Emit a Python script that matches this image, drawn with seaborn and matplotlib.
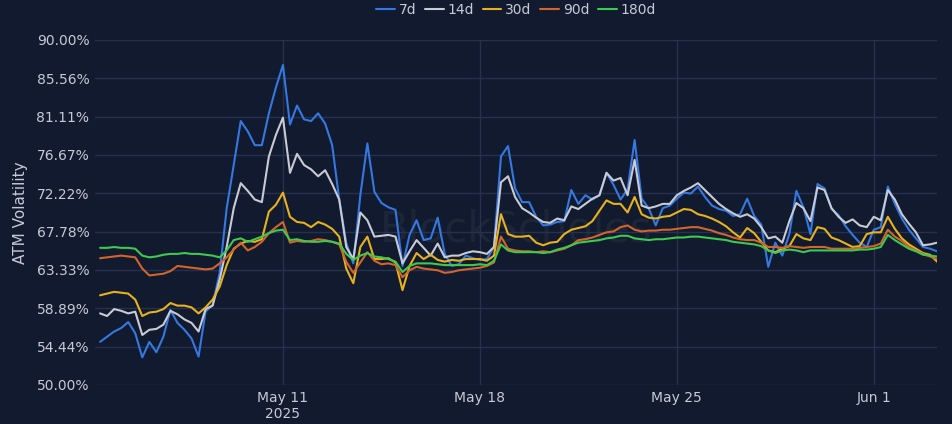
import pandas as pd
import numpy as np
import seaborn as sns
import matplotlib.pyplot as plt

# ATM volatility term structure, 6-hourly samples
start = '2025-05-04 12:00'
step = '6h'

vol_7d = [55.0, 55.6, 56.2, 56.6, 57.3, 56.0, 53.2, 55.0, 53.8, 55.6,
          58.7, 57.2, 56.4, 55.4, 53.3, 58.5, 59.3, 63.0, 70.5, 75.5,
          80.6, 79.4, 77.8, 77.8, 81.5, 84.5, 87.1, 80.2, 82.4, 80.8,
          80.6, 81.5, 80.3, 77.8, 71.5, 66.5, 64.1, 72.0, 78.0, 72.4,
          71.1, 70.6, 70.3, 63.8, 67.4, 69.1, 66.8, 67.0, 69.4, 65.2,
          63.8, 64.0, 65.0, 64.7, 64.5, 64.6, 66.0, 76.5, 77.7, 72.8,
          71.2, 71.2, 69.5, 68.5, 68.6, 68.9, 69.0, 72.6, 71.0, 72.0,
          71.5, 72.0, 74.6, 73.2, 71.5, 72.7, 78.4, 71.6, 70.5, 68.5,
          70.5, 70.8, 71.6, 72.3, 72.2, 73.0, 71.8, 70.8, 70.4, 70.2,
          69.6, 69.8, 71.6, 69.6, 68.6, 63.7, 66.5, 65.0, 67.5, 72.5,
          70.6, 67.5, 73.3, 72.8, 70.4, 69.7, 68.4, 67.4, 66.5, 66.0,
          68.0, 68.3, 73.0, 71.0, 69.3, 68.0, 67.0, 66.0, 65.8, 65.5]

vol_14d = [58.3, 58.0, 58.8, 58.6, 58.3, 58.5, 55.8, 56.4, 56.5, 57.0,
           58.6, 58.2, 57.6, 57.2, 56.2, 58.8, 59.2, 62.2, 66.0, 70.5,
           73.4, 72.5, 71.5, 71.2, 76.5, 79.0, 81.0, 74.6, 76.8, 75.5,
           75.0, 74.2, 74.9, 73.3, 71.5, 66.0, 64.6, 70.0, 69.1, 67.2,
           67.3, 67.4, 67.2, 64.1, 65.5, 66.8, 65.9, 65.0, 66.4, 64.8,
           65.0, 65.0, 65.3, 65.5, 65.4, 65.2, 66.0, 73.5, 74.2, 71.8,
           70.5, 70.0, 69.4, 68.9, 68.8, 69.3, 69.1, 70.7, 70.4, 71.0,
           71.6, 72.0, 74.6, 73.7, 74.0, 72.0, 76.1, 70.8, 70.5, 70.7,
           71.0, 71.0, 72.0, 72.5, 72.9, 73.4, 72.6, 71.8, 71.0, 70.4,
           69.9, 69.5, 69.8, 69.3, 68.3, 67.0, 67.2, 66.5, 69.0, 71.1,
           70.5, 69.0, 72.9, 72.6, 70.5, 69.5, 68.8, 69.2, 68.5, 68.3,
           69.5, 69.1, 72.6, 71.5, 69.8, 68.7, 67.7, 66.2, 66.3, 66.5]

vol_30d = [60.4, 60.6, 60.8, 60.7, 60.6, 59.9, 58.0, 58.4, 58.5, 58.8,
           59.5, 59.2, 59.2, 59.0, 58.3, 59.0, 59.9, 61.4, 63.9, 65.8,
           66.4, 66.7, 66.6, 66.9, 70.1, 70.9, 72.3, 69.5, 68.9, 68.8,
           68.3, 68.9, 68.6, 68.1, 67.2, 63.5, 61.8, 66.0, 67.2, 64.6,
           64.6, 64.7, 64.2, 61.0, 63.8, 65.3, 64.6, 65.1, 64.5, 64.3,
           64.5, 64.4, 64.6, 64.6, 64.6, 64.4, 65.0, 69.8, 67.5, 67.2,
           67.2, 67.3, 66.5, 66.2, 66.5, 66.6, 67.5, 68.0, 68.2, 68.4,
           69.0, 70.2, 71.4, 71.0, 71.0, 70.0, 71.8, 69.8, 69.4, 69.3,
           69.5, 69.6, 70.0, 70.4, 70.3, 69.8, 69.6, 69.3, 68.9, 68.4,
           67.7, 67.1, 68.2, 67.6, 66.6, 65.6, 65.4, 65.8, 66.1, 67.5,
           67.0, 66.8, 68.3, 68.1, 67.1, 66.8, 66.4, 66.0, 66.1, 67.5,
           67.7, 67.7, 69.5, 68.1, 67.0, 66.3, 65.8, 65.3, 65.1, 64.3]

vol_90d = [64.7, 64.8, 64.9, 65.0, 64.9, 64.8, 63.5, 62.7, 62.8, 62.9,
           63.2, 63.8, 63.7, 63.6, 63.5, 63.4, 63.5, 64.1, 64.8, 65.7,
           66.5, 65.6, 66.0, 66.6, 67.6, 68.3, 68.9, 66.5, 66.7, 66.6,
           66.7, 66.9, 66.8, 66.6, 66.3, 64.3, 63.0, 64.2, 65.4, 64.4,
           64.0, 64.1, 63.9, 62.5, 63.3, 63.7, 63.5, 63.4, 63.3, 63.0,
           63.1, 63.3, 63.4, 63.5, 63.6, 63.8, 64.2, 67.2, 65.8, 65.6,
           65.5, 65.5, 65.4, 65.5, 65.4, 65.6, 65.8, 66.2, 66.8, 66.9,
           67.1, 67.4, 67.7, 67.8, 68.3, 68.5, 68.0, 67.8, 67.9, 67.9,
           68.0, 68.0, 68.1, 68.2, 68.3, 68.3, 68.1, 67.9, 67.6, 67.4,
           67.1, 66.9, 66.8, 66.8, 66.5, 66.0, 66.0, 65.9, 66.1, 66.0,
           65.9, 66.0, 66.0, 66.0, 65.8, 65.8, 65.8, 65.8, 65.9, 66.0,
           66.1, 66.4, 68.0, 67.2, 66.7, 66.0, 65.6, 65.2, 64.9, 64.6]

vol_180d = [65.9, 65.9, 66.0, 65.9, 65.9, 65.8, 65.0, 64.8, 64.9, 65.1,
            65.2, 65.2, 65.3, 65.2, 65.2, 65.1, 65.0, 64.8, 65.6, 66.8,
            67.0, 66.6, 66.9, 67.2, 67.6, 67.9, 68.0, 66.8, 66.9, 66.7,
            66.6, 66.6, 66.7, 66.6, 66.4, 65.2, 64.5, 65.0, 65.3, 64.9,
            64.8, 64.6, 64.3, 63.1, 63.8, 64.1, 64.1, 64.1, 64.0, 63.9,
            63.9, 63.9, 63.9, 63.9, 64.0, 63.9, 64.4, 66.3, 65.6, 65.4,
            65.4, 65.4, 65.4, 65.3, 65.4, 65.7, 65.9, 66.2, 66.5, 66.6,
            66.7, 66.8, 67.0, 67.1, 67.3, 67.3, 67.0, 66.9, 66.8, 66.9,
            66.9, 67.0, 67.1, 67.1, 67.2, 67.2, 67.1, 67.0, 66.9, 66.8,
            66.6, 66.5, 66.4, 66.3, 66.1, 65.6, 65.3, 65.6, 65.7, 65.6,
            65.4, 65.6, 65.6, 65.6, 65.6, 65.6, 65.6, 65.6, 65.7, 65.7,
            65.8, 66.0, 67.4, 66.8, 66.3, 65.8, 65.5, 65.1, 65.0, 64.9]

tenors = ['7d', '14d', '30d', '90d', '180d']
colors = ['#3478e0', '#c9cbd3', '#e8b21c', '#d2652a', '#3ec94f']
tick_dates = ['2025-05-11', '2025-05-18', '2025-05-25', '2025-06-01']
tick_labels = ['May 11\n2025', 'May 18', 'May 25', 'Jun 1']

times = pd.date_range(start, periods=len(vol_7d), freq=step)
df = pd.DataFrame({'time': times, '7d': vol_7d, '14d': vol_14d, '30d': vol_30d,
                   '90d': vol_90d, '180d': vol_180d})
df = df.melt(id_vars='time', var_name='tenor', value_name='vol')

bg = '#111a2e'
grid = '#263150'
txt = '#c6cad4'

sns.set_theme(style='dark')
plt.rcParams['font.family'] = ['DejaVu Sans']

fig = plt.figure(figsize=(9.52, 4.24), dpi=100, facecolor=bg)
ax_pos = [0.0998, 0.092, 0.8845, 0.8137]
ax = fig.add_axes(ax_pos, facecolor=bg)

# faint watermark
ax.text(0.5, 0.45, 'BlockScholes', transform=ax.transAxes, ha='center', va='center',
        fontsize=30, color='#8a90a0', alpha=0.10, zorder=0)

sns.lineplot(data=df, x='time', y='vol', hue='tenor', hue_order=tenors,
             palette=colors, linewidth=1.5, ax=ax, legend=True)

yt = np.linspace(50, 90, 10)
ax.set_yticks(yt)
ax.set_yticklabels(['%.2f%%' % v for v in yt])
ax.set_ylim(50, 90)
ax.set_xticks(pd.to_datetime(tick_dates))
ax.set_xticklabels(tick_labels)
ax.set_xlim(pd.Timestamp('2025-05-04 07:40'), pd.Timestamp('2025-06-03 06:00'))

ax.grid(True, color=grid, linewidth=1)
ax.set_axisbelow(True)
for s in ax.spines.values():
    s.set_visible(False)
ax.tick_params(colors=txt, labelsize=10, length=0, pad=4)
ax.set_xlabel('')
ax.set_ylabel('ATM Volatility', color=txt, fontsize=11, labelpad=6)

# legend on top, centred over the plot area
h, l = ax.get_legend_handles_labels()
ax.legend(h, l, loc='upper center', bbox_to_anchor=(ax_pos[0] + ax_pos[2] / 2, 1.0),
          bbox_transform=fig.transFigure, ncol=5, frameon=False, fontsize=10,
          labelcolor=txt, handlelength=1.35, columnspacing=0.6, handletextpad=0.3,
          borderaxespad=0.0, borderpad=0.2)

fig.savefig('out.png', dpi=100, facecolor=bg)
